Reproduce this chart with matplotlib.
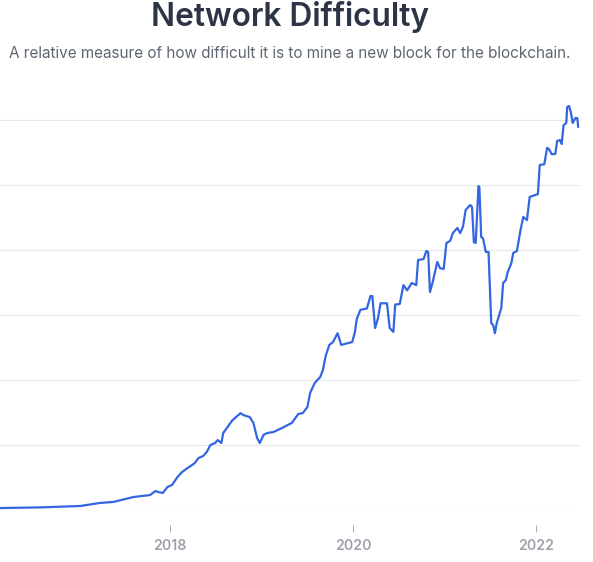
import matplotlib
matplotlib.use("Agg")
import matplotlib.pyplot as plt

# Bitcoin network difficulty (decimal year, trillions)
years = [
    2016.14, 2016.58, 2017.02, 2017.23, 2017.38, 2017.60, 2017.70, 2017.78,
    2017.84, 2017.87, 2017.92, 2017.97, 2018.02, 2018.08, 2018.13, 2018.19,
    2018.24, 2018.27, 2018.31, 2018.36, 2018.40, 2018.44, 2018.49, 2018.52,
    2018.56, 2018.58, 2018.68, 2018.77, 2018.80, 2018.87, 2018.91, 2018.95,
    2018.98, 2019.02, 2019.06, 2019.13, 2019.22, 2019.33, 2019.40, 2019.45,
    2019.50, 2019.53, 2019.58, 2019.64, 2019.67, 2019.70, 2019.74, 2019.78,
    2019.83, 2019.87, 2019.99, 2020.02, 2020.04, 2020.08, 2020.15, 2020.19,
    2020.21, 2020.24, 2020.27, 2020.30, 2020.37, 2020.40, 2020.44, 2020.46,
    2020.51, 2020.55, 2020.59, 2020.64, 2020.69, 2020.71, 2020.77, 2020.80,
    2020.82, 2020.84, 2020.87, 2020.92, 2020.95, 2020.99, 2021.02, 2021.06,
    2021.09, 2021.14, 2021.17, 2021.20, 2021.23, 2021.28, 2021.30, 2021.32,
    2021.34, 2021.37, 2021.38, 2021.40, 2021.42, 2021.45, 2021.48, 2021.51,
    2021.53, 2021.55, 2021.57, 2021.62, 2021.64, 2021.67, 2021.69, 2021.73,
    2021.75, 2021.79, 2021.83, 2021.86, 2021.90, 2021.93, 2022.02, 2022.04,
    2022.09, 2022.12, 2022.14, 2022.17, 2022.21, 2022.23, 2022.26, 2022.28,
    2022.30, 2022.33, 2022.34, 2022.36, 2022.38, 2022.40, 2022.43, 2022.45,
    2022.46,
]
difficulty = [
    0.15, 0.20, 0.31, 0.54, 0.62, 1.00, 1.08, 1.15,
    1.46, 1.38, 1.31, 1.77, 1.92, 2.54, 2.92, 3.23,
    3.46, 3.62, 4.00, 4.15, 4.46, 5.00, 5.15, 5.38,
    5.15, 5.92, 6.90, 7.45, 7.30, 7.15, 6.70, 5.55,
    5.15, 5.77, 5.92, 6.00, 6.30, 6.70, 7.38, 7.46,
    7.92, 9.00, 9.77, 10.23, 10.77, 11.85, 12.70, 12.92,
    13.60, 12.70, 12.92, 13.70, 14.70, 15.40, 15.50, 16.46,
    16.46, 14.00, 14.70, 15.90, 15.90, 14.00, 13.70, 15.80,
    15.85, 17.30, 16.90, 17.46, 17.30, 19.23, 19.30, 19.92,
    19.85, 16.77, 17.54, 19.08, 18.60, 18.54, 20.54, 20.70,
    21.30, 21.70, 21.30, 21.77, 23.08, 23.46, 23.30, 20.60,
    20.54, 24.92, 24.85, 21.00, 20.90, 19.85, 19.85, 14.38,
    14.23, 13.60, 14.38, 15.54, 17.46, 17.70, 18.30, 19.00,
    19.77, 19.92, 21.54, 22.54, 22.30, 24.08, 24.30, 26.54,
    26.60, 27.85, 27.77, 27.38, 27.38, 28.38, 28.46, 28.15,
    29.60, 29.77, 31.00, 31.08, 30.60, 29.77, 30.15, 30.15,
    29.46,
]
tick_years = [2016, 2018, 2020, 2022]
tick_labels = ["2016", "2018", "2020", "2022"]
grid_values = [0, 5, 10, 15, 20, 25, 30]

plt.rcParams["font.family"] = ["Inter", "DejaVu Sans"]

W, H = 593, 562
fig = plt.figure(figsize=(W / 100, H / 100), dpi=100)
fig.patch.set_facecolor("white")

# axes run off the left edge of the picture, like the cropped screenshot
ax = fig.add_axes([0, 52 / H, 580 / W, 416 / H])
ax.plot(years, difficulty, color="#3366e0", linewidth=1.6,
        solid_joinstyle="round", solid_capstyle="round", clip_on=False)

ax.set_yticks(grid_values)
ax.yaxis.grid(True, color="#e6e8ec", linewidth=0.8)
ax.set_axisbelow(True)
ax.tick_params(axis="y", left=False, labelleft=False)

ax.set_xticks(tick_years)
ax.set_xticklabels(tick_labels)
# limits after the ticks, so the 2016 tick does not widen the view
ax.set_xlim(2016.14, 2022.48)
ax.set_ylim(0, 32)

for side in ["left", "right", "top"]:
    ax.spines[side].set_visible(False)
ax.spines["bottom"].set_position(("outward", 11))
ax.spines["bottom"].set_visible(False)
ax.tick_params(axis="x", direction="out", length=5, width=0.7,
               color="#a7abb4", labelcolor="#9ca1ab", labelsize=10.2, pad=5)
for lab in ax.get_xticklabels():
    lab.set_fontweight("semibold")

fig.text(290 / W, 1 - 17 / H, "Network Difficulty", ha="center", va="center",
         fontsize=22.8, fontweight="semibold", color="#2d3446")
fig.text(290 / W, 1 - 53 / H,
         "A relative measure of how difficult it is to mine a new block for the blockchain.",
         ha="center", va="center", fontsize=11, color="#5f6673")

fig.savefig("out.png", dpi=100)
